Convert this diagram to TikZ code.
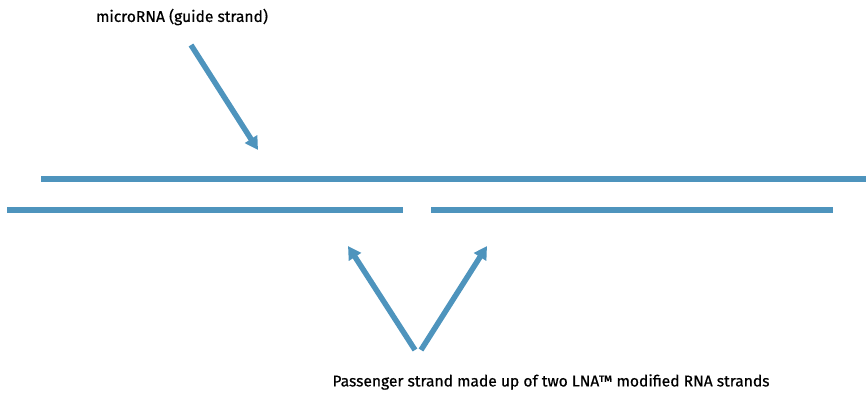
\documentclass[tikz,border=0pt]{standalone}
\usepackage{fontspec}
\setmainfont{Fira Sans}
\newfontfamily\lblfont{Fira Sans}[FakeBold=0.6]
\usetikzlibrary{arrows.meta}
\definecolor{strandblue}{RGB}{78,148,189}
\tikzset{
  strand/.style={draw=strandblue, line width=6pt},
  pointer/.style={draw=strandblue, line width=5.5pt, -{Triangle[length=13pt,width=14pt]}},
  lbl/.style={font=\lblfont\fontsize{15.6}{18}\selectfont, text=black, inner sep=0pt}
}
\begin{document}
\begin{tikzpicture}[x=1pt,y=-1pt]
\useasboundingbox (0,0) rectangle (866,393);
% strands
\coordinate (gL) at (41,179);
\coordinate (gR) at (866,179);
\coordinate (p1L) at (7,210);
\coordinate (p1R) at (403,210);
\coordinate (p2L) at (431,210);
\coordinate (p2R) at (833,210);
\draw[strand] (gL) -- (gR);
\draw[strand] (p1L) -- (p1R);
\draw[strand] (p2L) -- (p2R);
% labels
\node[lbl] (guide) at (182,17) {microRNA (guide strand)};
\node[lbl] (pass) at (551,382) {Passenger strand made up of two LNA™ modified RNA strands};
% arrows
\coordinate (a1s) at (191,45);
\coordinate (a1e) at (258,150);
\coordinate (a2s) at (415,350);
\coordinate (a2e) at (348,246);
\coordinate (a3s) at (421,350);
\coordinate (a3e) at (487,246);
\draw[pointer] (a1s) -- (a1e);
\draw[pointer] (a2s) -- (a2e);
\draw[pointer] (a3s) -- (a3e);
\end{tikzpicture}
\end{document}
